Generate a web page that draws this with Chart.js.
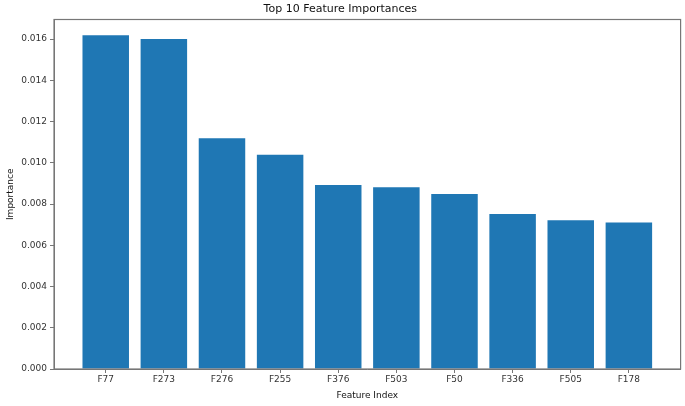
<!DOCTYPE html>
<html>
<head>
<meta charset="utf-8">
<script src="https://cdn.jsdelivr.net/npm/chart.js@4"></script>
<style>
  html, body { margin: 0; padding: 0; background: #fff; }
  #wrap { width: 685px; height: 406px; }
</style>
</head>
<body>
<div id="wrap"><canvas id="chart" width="685" height="406"></canvas></div>
<script>
// valeurs
const features = ['F77', 'F273', 'F276', 'F255', 'F376', 'F503', 'F50', 'F336', 'F505', 'F178'];
const importances = [0.01619, 0.01600, 0.01119, 0.01039, 0.00892, 0.00882, 0.00849, 0.00752, 0.00721, 0.00711];
const yTicks = [0, 0.002, 0.004, 0.006, 0.008, 0.010, 0.012, 0.014, 0.016];

const font = { family: 'DejaVu Sans', size: 9 };
const textColor = '#333';
const spineColor = '#777';

// cadre complet autour de la zone du graphique (style matplotlib)
const boxPlugin = {
  id: 'box',
  afterDraw(chart) {
    const { ctx, chartArea: a } = chart;
    ctx.save();
    ctx.strokeStyle = spineColor;
    ctx.lineWidth = 1.2;
    ctx.strokeRect(a.left, a.top, a.right - a.left, a.bottom - a.top);
    ctx.restore();
  }
};

const ctx = document.getElementById('chart').getContext('2d');
new Chart(ctx, {
  type: 'bar',
  data: {
    datasets: [{
      label: 'Importance',
      data: importances.map((v, i) => ({ x: i, y: v })),
      backgroundColor: '#1f77b4',
      borderWidth: 0,
      barPercentage: 0.8,
      categoryPercentage: 1.0,
    }],
  },
  options: {
    responsive: false,
    animation: false,
    layout: { padding: { left: 0, right: 4.4, top: 0, bottom: 0 } },
    plugins: {
      legend: { display: false },
      tooltip: { enabled: false },
      title: {
        display: true,
        text: 'Top 10 Feature Importances',
        color: '#111',
        font: { family: 'DejaVu Sans', size: 11, weight: 'normal', lineHeight: 1.2 },
        padding: { top: 3, bottom: 3.3 },
      },
    },
    scales: {
      x: {
        type: 'linear',
        min: -0.89,
        max: 9.89,
        offset: false,
        afterBuildTicks: (axis) => { axis.ticks = features.map((_, i) => ({ value: i })); },
        afterFit: (axis) => { axis.height = 37; },
        ticks: {
          callback: (v) => features[v],
          color: textColor,
          font: font,
          padding: 1,
          maxRotation: 0,
          autoSkip: false,
        },
        grid: { offset: false, drawOnChartArea: false, drawTicks: true, tickLength: 4, color: spineColor },
        border: { display: true, color: spineColor },
        title: {
          display: true,
          text: 'Feature Index',
          color: '#111',
          font: { family: 'DejaVu Sans', size: 9 },
          padding: { top: 0, bottom: 5 },
        },
      },
      y: {
        min: 0,
        max: 0.01695,
        afterBuildTicks: (axis) => { axis.ticks = yTicks.map((v) => ({ value: v })); },
        afterFit: (axis) => { axis.width = 54; },
        ticks: {
          callback: (v) => v.toFixed(3),
          color: textColor,
          font: font,
          padding: 3,
        },
        grid: { offset: false, drawOnChartArea: false, drawTicks: true, tickLength: 4, color: spineColor },
        border: { display: true, color: spineColor },
        title: {
          display: true,
          text: 'Importance',
          color: '#111',
          font: { family: 'DejaVu Sans', size: 9 },
          padding: { top: 5, bottom: 0 },
        },
      },
    },
  },
  plugins: [boxPlugin],
});
</script>
</body>
</html>
